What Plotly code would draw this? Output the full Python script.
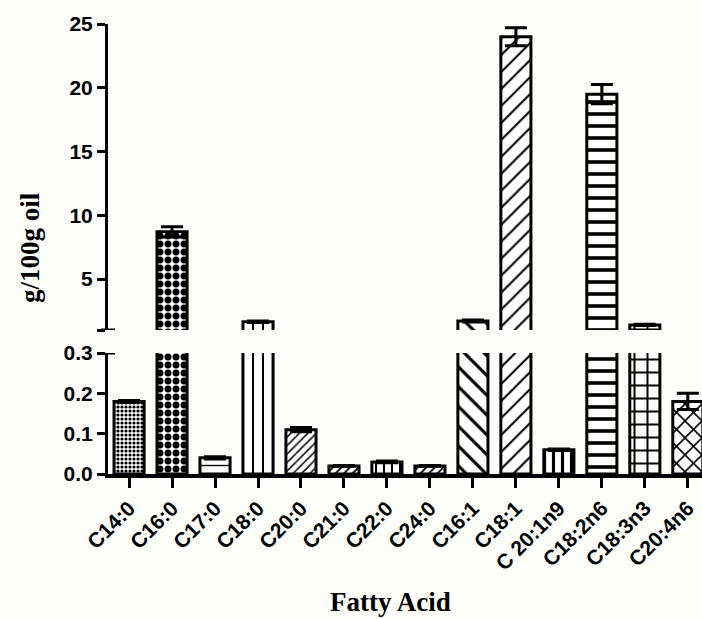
import plotly.graph_objects as go

categories = ["C14:0", "C16:0", "C17:0", "C18:0", "C20:0", "C21:0", "C22:0",
              "C24:0", "C16:1", "C18:1", "C 20:1n9", "C18:2n6", "C18:3n3", "C20:4n6"]
values = [0.18, 8.7, 0.04, 1.65, 0.11, 0.02, 0.03, 0.02, 1.7, 24.0, 0.06, 19.5, 1.4, 0.18]
errors = [0.002, 0.4, 0.003, 0.06, 0.005, 0.001, 0.002, 0.001, 0.08, 0.7, 0.002, 0.75, 0.05, 0.02]

shapes = [".", ".", "-", "|", "/", "/", "|", "/", "\\", "/", "|", "-", "+", "x"]
psize = [4, 8, 9, 10, 6, 6, 8, 6, 14, 12, 9, 12, 13, 12]
psolid = [0.5, 0.6, 0.15, 0.2, 0.25, 0.3, 0.25, 0.3, 0.22, 0.17, 0.35, 0.3, 0.28, 0.25]

W, H = 702, 619
x0 = 108
xr = [-0.49, 13.33]

def bar(xa, ya):
    return go.Bar(
        x=list(range(len(categories))), y=values, xaxis=xa, yaxis=ya,
        width=0.7,
        marker=dict(color="white", line=dict(color="black", width=3),
                    pattern=dict(shape=shapes, size=psize, solidity=psolid,
                                 fgcolor="black", bgcolor="white", fillmode="replace")),
        error_y=dict(type="data", array=errors, visible=True, color="black",
                     thickness=3, width=11),
        showlegend=False, hoverinfo="skip")

fig = go.Figure([bar("x", "y"), bar("x2", "y2")])

tickfont = dict(family="Liberation Sans, Arial", size=21, color="black", weight="bold")
bg = "#fdfdf9"

fig.update_layout(
    width=W, height=H, margin=dict(l=0, r=0, t=0, b=0, autoexpand=False),
    paper_bgcolor=bg, plot_bgcolor=bg, bargap=0.3,
    xaxis=dict(domain=[x0 / W, 1], range=xr, visible=False, anchor="y", automargin=False),
    yaxis=dict(domain=[1 - 330 / H, 1 - 24 / H], range=[1, 25],
               tickvals=[1, 5, 10, 15, 20, 25], ticktext=["", "5", "10", "15", "20", "25"],
               showline=True, linecolor="black", linewidth=3, ticks="outside",
               ticklen=8, tickwidth=3, tickcolor="black", showgrid=False,
               zeroline=False, tickfont=tickfont, anchor="x", automargin=False),
    xaxis2=dict(domain=[x0 / W, 1], range=xr, anchor="y2", automargin=False,
                tickvals=list(range(len(categories))), ticktext=categories,
                tickangle=-45, showline=True, linecolor="black", linewidth=3.5,
                ticks="outside", ticklen=10, tickwidth=3, tickcolor="black",
                showgrid=False, zeroline=False, tickfont=tickfont),
    yaxis2=dict(domain=[1 - 474 / H, 1 - 353 / H], range=[0, 0.3],
                tickvals=[0, 0.1, 0.2, 0.3], ticktext=["0.0", "0.1", "0.2", "0.3"],
                showline=True, linecolor="black", linewidth=3, ticks="outside",
                ticklen=8, tickwidth=3, tickcolor="black", showgrid=False,
                zeroline=False, tickfont=tickfont, anchor="x2", automargin=False),
    shapes=[
        dict(type="line", xref="paper", yref="y", x0=101 / W, x1=115 / W, y0=1, y1=1,
             line=dict(color="black", width=3)),
        dict(type="line", xref="paper", yref="y2", x0=101 / W, x1=115 / W, y0=0.3, y1=0.3,
             line=dict(color="black", width=3)),
    ],
    annotations=[
        dict(text="g/100g oil", xref="paper", yref="paper", x=30 / W, y=1 - 248 / H,
             textangle=-90, showarrow=False, xanchor="center", yanchor="middle",
             font=dict(family="Liberation Serif, Times New Roman", size=27,
                       color="black", weight="bold")),
        dict(text="Fatty Acid", xref="paper", yref="paper", x=391 / W, y=1 - 602 / H,
             showarrow=False, xanchor="center", yanchor="middle",
             font=dict(family="Liberation Serif, Times New Roman", size=27,
                       color="black", weight="bold")),
    ],
)

fig.write_html("out.html")
